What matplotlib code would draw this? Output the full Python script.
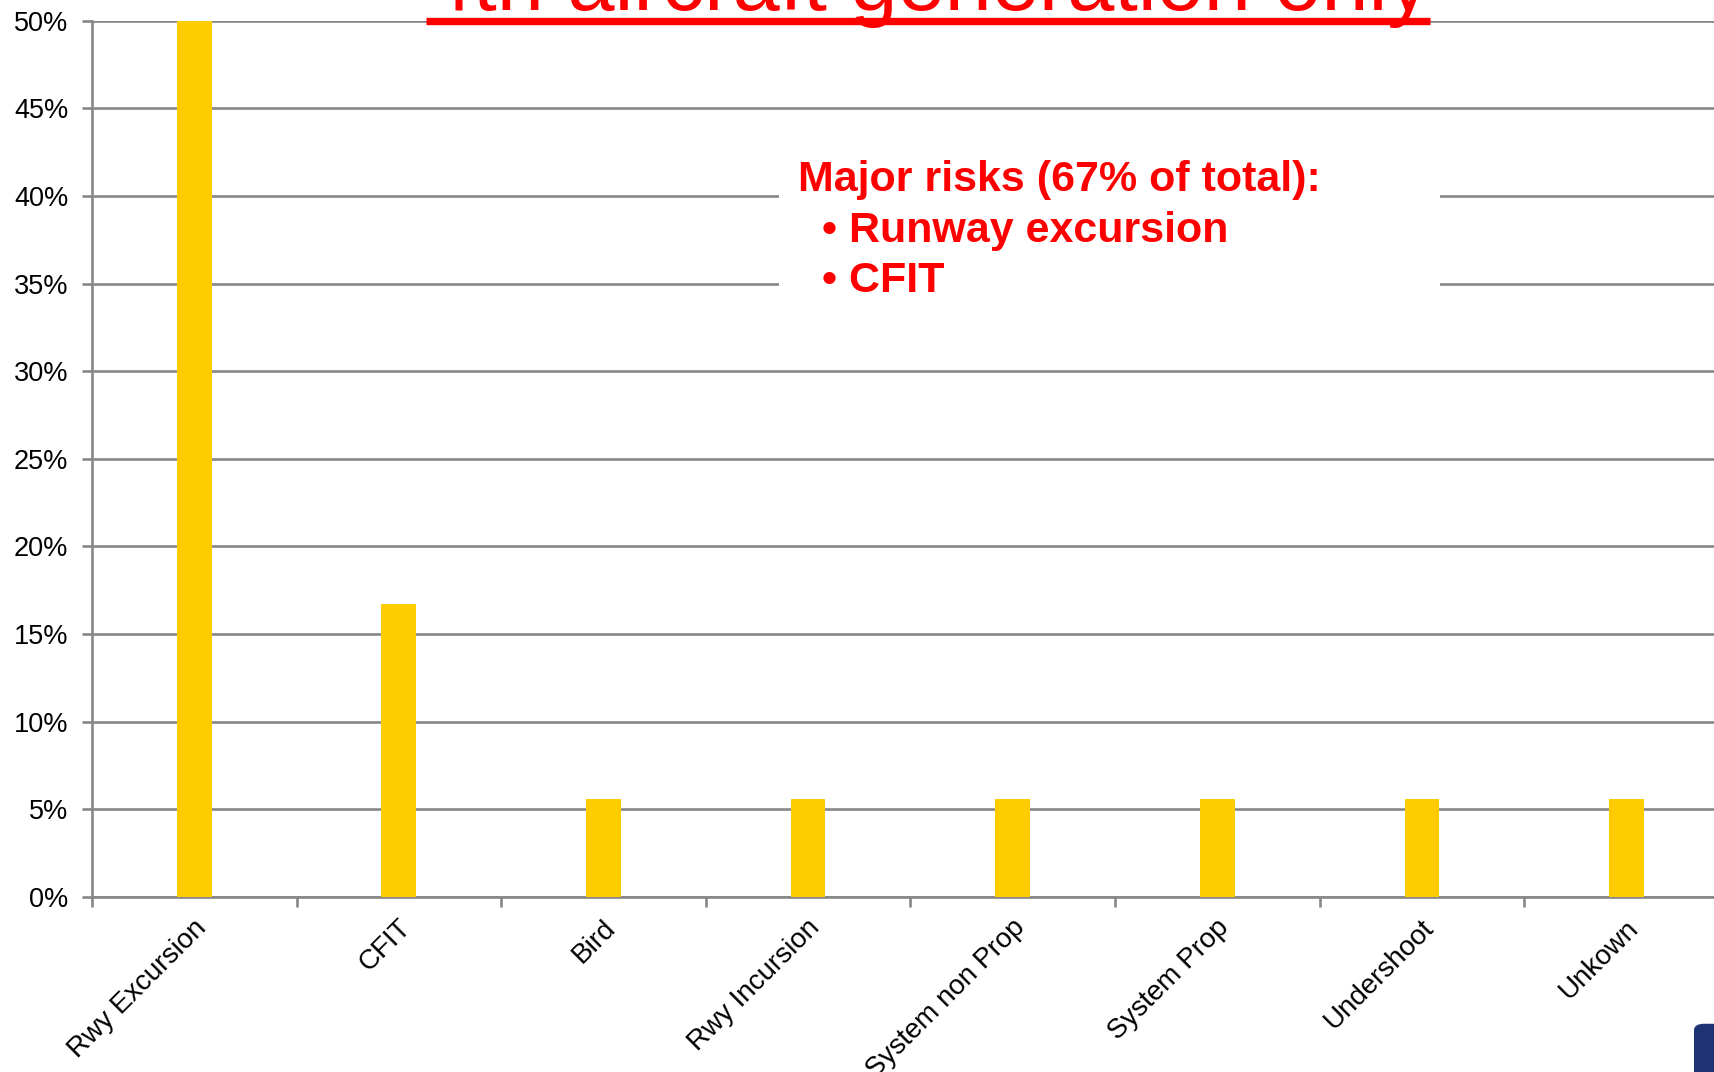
import matplotlib
matplotlib.use("Agg")
import matplotlib.pyplot as plt
from matplotlib.patches import Rectangle, FancyBboxPatch
from matplotlib.lines import Line2D
from matplotlib.ticker import FuncFormatter, MultipleLocator
from matplotlib.transforms import ScaledTranslation

plt.rcParams['font.family'] = ['Liberation Sans', 'DejaVu Sans']

# share of accidents per cause (4th generation aircraft)
categories = ["Rwy Excursion", "CFIT", "Bird", "Rwy Incursion",
              "System non Prop", "System Prop", "Undershoot", "Unkown"]
shares = [50.0, 16.7, 5.6, 5.6, 5.6, 5.6, 5.6, 5.6]

title_text = "4th aircraft generation only"
note_lines = ["Major risks (67% of total):", "  \u2022 Runway excursion", "  \u2022 CFIT"]

grid_col = '#878787'
bar_col = '#FFCC00'
red = '#FF0000'

fig = plt.figure(figsize=(17.15, 10.72), dpi=100)
ax = fig.add_axes([0.0536, 0.1633, 0.9545, 0.8173])

x = list(range(len(categories)))
ax.bar(x, shares, width=0.17, color=bar_col, zorder=3)

ax.set_xlim(-0.5, len(categories) - 0.5)
ax.set_ylim(0, 50)
ax.yaxis.set_major_locator(MultipleLocator(5))
ax.yaxis.set_major_formatter(FuncFormatter(lambda v, p: f"{v:.0f}%"))
ax.grid(axis='y', color=grid_col, linewidth=1.9, zorder=0)
ax.set_axisbelow(True)

for s in ['top', 'right']:
    ax.spines[s].set_visible(False)
for s in ['left', 'bottom']:
    ax.spines[s].set_color(grid_col)
    ax.spines[s].set_linewidth(1.9)

# category boundary ticks, like the spreadsheet original
ax.set_xticks([i - 0.5 for i in range(len(categories) + 1)])
ax.set_xticklabels([])
ax.set_xticks(x, minor=True)
ax.set_xticklabels(categories, minor=True, rotation=45, ha='right',
                   rotation_mode='anchor', va='center', fontsize=20)
ax.tick_params(axis='x', which='major', length=7, width=1.9, color=grid_col, direction='out')
ax.tick_params(axis='x', which='minor', length=0, pad=19.5)
ax.tick_params(axis='y', length=7, width=1.9, color=grid_col, labelsize=19.5, pad=10)
# nudge rotated labels a little to the right
for lbl in ax.get_xticklabels(minor=True):
    lbl.set_transform(lbl.get_transform() + ScaledTranslation(0.08, 0, fig.dpi_scale_trans))

# white box behind the note, hiding grid lines
fig.patches.append(Rectangle((779 / 1715, 1 - 330 / 1072), (1440 - 779) / 1715, 200 / 1072,
                             transform=fig.transFigure, facecolor='white',
                             edgecolor='none', zorder=5))
fig.text(798 / 1715, 1 - 160 / 1072, "\n".join(note_lines), color=red,
         fontsize=31, fontweight='bold', va='top', ha='left',
         linespacing=1.34, zorder=6)

# title, mostly cut off at the top, underlined
t = fig.text(0.541, 1 - 10 / 1072, title_text, color=red, fontsize=61,
             ha='center', va='baseline')
fig.canvas.draw()
bb = t.get_window_extent().transformed(fig.transFigure.inverted())
fig.lines.append(Line2D([bb.x0, bb.x1], [1 - 21.3 / 1072] * 2, transform=fig.transFigure,
                        color=red, linewidth=5.3, solid_capstyle='butt'))

# corner of the logo at bottom right
fig.patches.append(FancyBboxPatch((1694 / 1715, -0.02), 0.05, 0.065,
                                  boxstyle='round,pad=0,rounding_size=0.006',
                                  transform=fig.transFigure, facecolor='#1F3372',
                                  edgecolor='none'))

fig.savefig("out.png", dpi=100)
